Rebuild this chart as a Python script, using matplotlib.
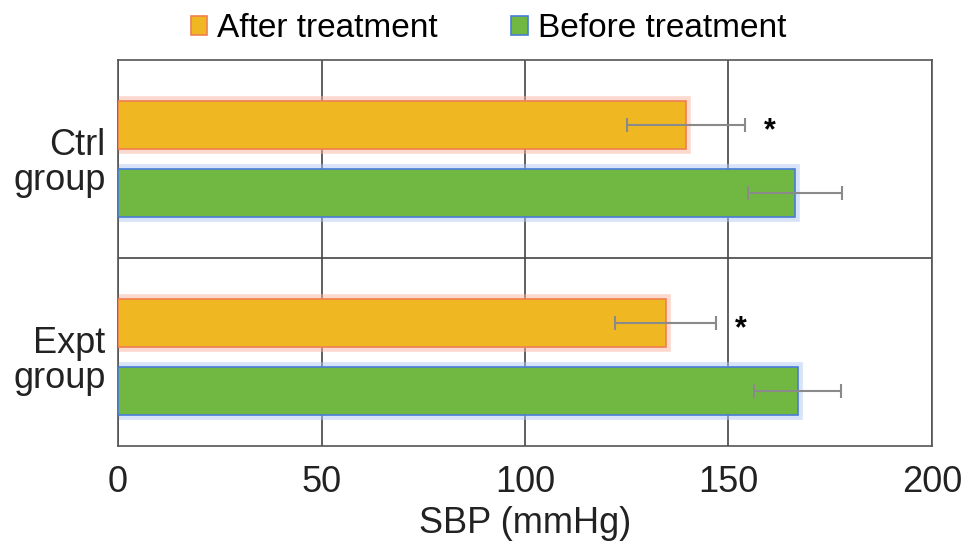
import numpy as np
import matplotlib
matplotlib.use("Agg")
import matplotlib.pyplot as plt

plt.rcParams['font.family'] = ['Liberation Sans', 'DejaVu Sans']

groups = ["Ctrl\ngroup", "Expt\ngroup"]
after = [139.6, 134.6]
after_err = [14.5, 12.4]
before = [166.3, 167.0]
before_err = [11.5, 10.7]
stars = ["*", "*"]

fig = plt.figure(figsize=(9.69, 5.59), dpi=100)
ax = fig.add_axes([0.1218, 0.2021, 0.84, 0.6906])

y = np.arange(len(groups))
h = 0.24
off = 0.172

# soft glow around the bars
ax.barh(y - off, after, height=h, color="#EFB722", edgecolor="#F9B5A0", linewidth=7, alpha=0.5, zorder=2)
ax.barh(y + off, before, height=h, color="#71B842", edgecolor="#B0C8F5", linewidth=7, alpha=0.5, zorder=2)
ax.barh(y - off, after, height=h, color="#EFB722", edgecolor="#F08050", linewidth=1.2, label="After treatment", zorder=3)
ax.barh(y + off, before, height=h, color="#71B842", edgecolor="#4A7BD6", linewidth=1.2, label="Before treatment", zorder=3)

ax.errorbar(after, y - off, xerr=after_err, fmt="none", ecolor="#8A8A8A", elinewidth=1.5, capsize=5, capthick=1.5, zorder=4)
ax.errorbar(before, y + off, xerr=before_err, fmt="none", ecolor="#8A8A8A", elinewidth=1.5, capsize=5, capthick=1.5, zorder=4)

for i in range(len(groups)):
    ax.text(after[i] + after_err[i] + 6, y[i] - off + 0.03, stars[i], fontsize=22, fontweight="bold",
            va="center", ha="center", zorder=5)

ax.set_xlim(0, 200)
ax.set_ylim(1.45, -0.5)
ax.set_xticks([0, 50, 100, 150, 200])
ax.set_yticks(y)
ax.set_yticklabels(groups, linespacing=1.0)
ax.set_yticks([0.5], minor=True)
ax.tick_params(axis="both", labelsize=26, length=0, colors="#222222")
ax.tick_params(axis="x", pad=14)
ax.tick_params(axis="y", pad=9)
ax.tick_params(axis="y", which="minor", length=0)
ax.grid(axis="x", color="#444444", linewidth=1.2, zorder=0)
ax.grid(axis="y", which="minor", color="#444444", linewidth=1.2, zorder=0)
ax.set_axisbelow(True)
for s in ax.spines.values():
    s.set_color("#555555")
    s.set_linewidth(1.2)
ax.set_xlabel("SBP (mmHg)", fontsize=26, color="#222222", labelpad=4)

ax.legend(loc="lower center", bbox_to_anchor=(0.455, 0.99), ncol=2, frameon=False, fontsize=24,
          handlelength=0.5, handleheight=0.5, handletextpad=0.3, columnspacing=2.2,
          borderaxespad=0.2)

plt.savefig("out.png", dpi=100)
